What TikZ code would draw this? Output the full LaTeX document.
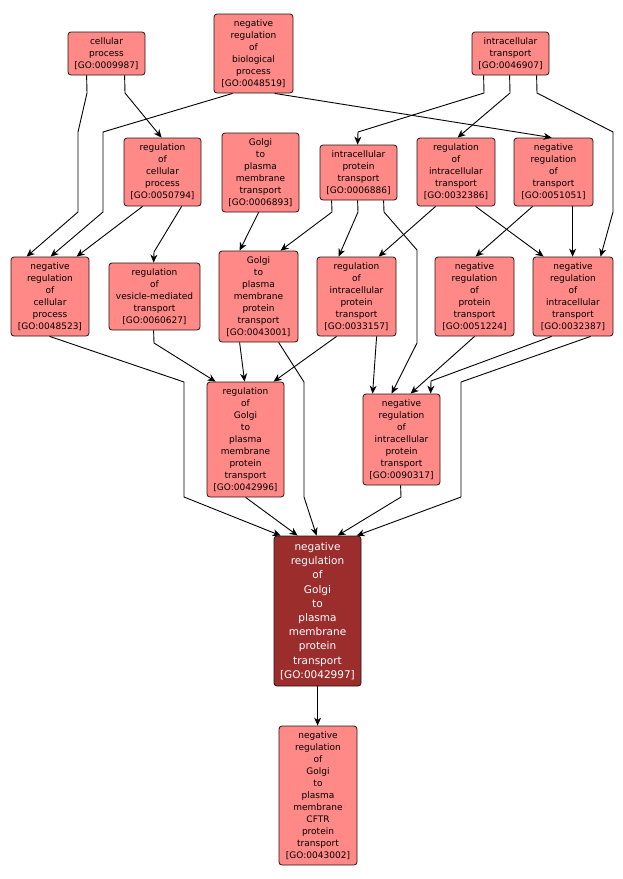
\documentclass[tikz,border=0pt]{standalone}
\usepackage{fontspec}
\newfontfamily\gofont{DejaVu Sans}
\usetikzlibrary{arrows.meta}
\definecolor{gofill}{RGB}{255,137,135}
\definecolor{gomainfill}{RGB}{155,45,45}
\definecolor{goline}{RGB}{40,20,20}
\newcommand\gon[7]{\node[#2, minimum width={(#5-#3)*1pt}, minimum height={(#6-#4)*1pt}] (#1) at ({(#3+#5)/2},{(#4+#6)/2}) {#7};}
\newcommand\goid[1]{\\{}[GO:#1]}
\begin{document}
\begin{tikzpicture}[x=1pt,y=-1pt,
 gobox/.style={draw=goline, fill=gofill, rounded corners=3pt, line width=0.8pt, inner sep=0pt, align=center, font=\gofont\fontsize{9}{12}\selectfont, text=black},
 gomain/.style={gobox, fill=gomainfill, text=white, font=\gofont\fontsize{10.5}{14.2}\selectfont},
 edge/.style={draw=black, line width=0.9pt, -{Stealth[length=8pt,width=7pt,inset=2.5pt]}}]
\useasboundingbox[fill=white] (0,0) rectangle (623,879);
% nodes
\gon{cp}{gobox}{68}{32}{145}{75}{cellular\\process\goid{0009987}}
\gon{nrbp}{gobox}{214}{14}{293}{93}{negative\\regulation\\of\\biological\\process\goid{0048519}}
\gon{it}{gobox}{472}{32}{549}{75}{intracellular\\transport\goid{0046907}}
\gon{rcp}{gobox}{124}{138}{201}{206}{regulation\\of\\cellular\\process\goid{0050794}}
\gon{gpmt}{gobox}{222}{133}{299}{212}{Golgi\\to\\plasma\\membrane\\transport\goid{0006893}}
\gon{ipt}{gobox}{320}{145}{397}{200}{intracellular\\protein\\transport\goid{0006886}}
\gon{rit}{gobox}{417}{138}{495}{206}{regulation\\of\\intracellular\\transport\goid{0032386}}
\gon{nrt}{gobox}{514}{138}{593}{206}{negative\\regulation\\of\\transport\goid{0051051}}
\gon{nrcp}{gobox}{11}{257}{89}{336}{negative\\regulation\\of\\cellular\\process\goid{0048523}}
\gon{rvmt}{gobox}{109}{263}{200}{330}{regulation\\of\\vesicle-mediated\\transport\goid{0060627}}
\gon{gpmpt}{gobox}{219}{251}{298}{342}{Golgi\\to\\plasma\\membrane\\protein\\transport\goid{0043001}}
\gon{ript}{gobox}{317}{257}{396}{336}{regulation\\of\\intracellular\\protein\\transport\goid{0033157}}
\gon{nrpt}{gobox}{435}{257}{514}{336}{negative\\regulation\\of\\protein\\transport\goid{0051224}}
\gon{nrit}{gobox}{533}{257}{613}{336}{negative\\regulation\\of\\intracellular\\transport\goid{0032387}}
\gon{rgpmpt}{gobox}{207}{382}{284}{497}{regulation\\of\\Golgi\\to\\plasma\\membrane\\protein\\transport\goid{0042996}}
\gon{nript}{gobox}{363}{394}{440}{485}{negative\\regulation\\of\\intracellular\\protein\\transport\goid{0090317}}
\gon{main}{gomain}{274}{536}{361}{686}{negative\\regulation\\of\\Golgi\\to\\plasma\\membrane\\protein\\transport\goid{0042997}}
\gon{cftr}{gobox}{279}{726}{357}{865}{negative\\regulation\\of\\Golgi\\to\\plasma\\membrane\\CFTR\\protein\\transport\goid{0043002}}
% edges
\draw[edge] ([xshift=19pt]cp.south west) -- (87,93) -- (78,132) -- (78,212) -- ([xshift=16pt]nrcp.north west);
\draw[edge] ([xshift=57pt]cp.south west) -- (125,93) -- ([xshift=38pt]rcp.north west);
\draw[edge] ([xshift=19pt]nrbp.south west) -- (103,132) -- (103,212) -- ([xshift=40pt]nrcp.north west);
\draw[edge] ([xshift=61pt]nrbp.south west) -- ([xshift=38pt]nrt.north west);
\draw[edge] ([xshift=19pt]rcp.south west) -- ([xshift=66pt]nrcp.north west);
\draw[edge] ([xshift=58pt]rcp.south west) -- (154,252) -- ([xshift=45pt]rvmt.north west);
\draw[edge] ([xshift=37pt]gpmt.south west) -- ([xshift=21pt]gpmpt.north west);
\draw[edge] ([xshift=12pt]ipt.south west) -- (332,212) -- ([xshift=62pt]gpmpt.north west);
\draw[edge] ([xshift=38pt]ipt.south west) -- (358,212) -- ([xshift=22pt]ript.north west);
\draw[edge] ([xshift=64pt]ipt.south west) -- (384,212) -- (417,250) -- (417,343) -- ([xshift=29pt]nript.north west);
\draw[edge] ([xshift=19pt]rit.south west) -- ([xshift=62pt]ript.north west);
\draw[edge] ([xshift=59pt]rit.south west) -- ([xshift=11pt]nrit.north west);
\draw[edge] ([xshift=19pt]nrt.south west) -- ([xshift=41pt]nrpt.north west);
\draw[edge] ([xshift=59pt]nrt.south west) -- ([xshift=40pt]nrit.north west);
\draw[edge] ([xshift=12pt]it.south west) -- (484,93) -- (358,132) -- ([xshift=38pt]ipt.north west);
\draw[edge] ([xshift=38pt]it.south west) -- (510,93) -- ([xshift=41pt]rit.north west);
\draw[edge] ([xshift=65pt]it.south west) -- (537,93) -- (613,132) -- (613,212) -- ([xshift=68pt]nrit.north west);
\draw[edge] ([xshift=39pt]nrcp.south west) -- (184,382) -- (184,497) -- ([xshift=7pt]main.north west);
\draw[edge] ([xshift=45pt]rvmt.south west) -- (154,343) -- ([xshift=9pt]rgpmpt.north west);
\draw[edge] ([xshift=21pt]gpmpt.south west) -- ([xshift=38pt]rgpmpt.north west);
\draw[edge] ([xshift=60pt]gpmpt.south west) -- (304,382) -- (304,497) -- ([xshift=43pt]main.north west);
\draw[edge] ([xshift=20pt]ript.south west) -- ([xshift=67pt]rgpmpt.north west);
\draw[edge] ([xshift=60pt]ript.south west) -- ([xshift=10pt]nript.north west);
\draw[edge] ([xshift=40pt]nrpt.south west) -- ([xshift=48pt]nript.north west);
\draw[edge] ([xshift=19pt]nrit.south west) -- (431,381) -- ([xshift=68pt]nript.north west);
\draw[edge] ([xshift=58pt]nrit.south west) -- (461,382) -- (461,497) -- ([xshift=83pt]main.north west);
\draw[edge] ([xshift=39pt]rgpmpt.south west) -- ([xshift=24pt]main.north west);
\draw[edge] ([xshift=38pt]nript.south west) -- (401,497) -- ([xshift=64pt]main.north west);
\draw[edge] ([xshift=44pt]main.south west) -- ([xshift=39pt]cftr.north west);
\end{tikzpicture}
\end{document}
